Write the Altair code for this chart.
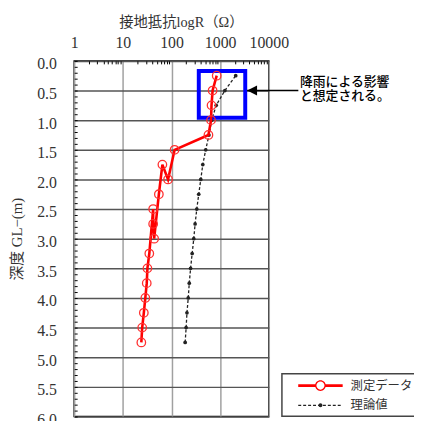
import altair as alt
import pandas as pd

# ---------------- data ----------------
depth_m = [0.25, 0.5, 0.75, 1.0, 1.25, 1.5, 1.75, 2.0, 2.25, 2.5,
           2.75, 3.0, 3.25, 3.5, 3.75, 4.0, 4.25, 4.5, 4.75]
r_measured = [850, 700, 665, 650, 575, 116, 65, 85, 55, 42,
              42, 44, 35, 32, 31, 29, 27, 25, 24]
r_theory = [2090, 1250, 830, 670, 590, 505, 440, 400, 363, 331,
            306, 287, 266, 247, 232, 221, 208, 200, 191]
series_names = ["測定データ", "理論値"]

x_ticks = [1, 10, 100, 1000, 10000]
x_minor = [m * 10 ** e for e in range(4) for m in range(2, 10)]
y_ticks = [round(i * 0.5, 1) for i in range(13)]
y_minor = [round(i * 0.1, 1) for i in range(61)]
x_title = "接地抵抗logR（Ω）"
y_title = "深度 GL−(m)"

note_lines = ["降雨による影響", "と想定される。"]
note_depth = [0.352, 0.592]
note_r = [43700, 43700]
box_r = [364, 3280]
box_depth = [0.17, 0.96]
arrow_r = [3600, 40500]
arrow_depth = [0.5]

# ---------------- tables ----------------
meas = pd.DataFrame({"R": r_measured, "depth": depth_m, "series": series_names[0]})
theo = pd.DataFrame({"R": r_theory, "depth": depth_m, "series": series_names[1]})
box_df = pd.DataFrame({"r1": [box_r[0]], "r2": [box_r[1]], "d1": [box_depth[0]], "d2": [box_depth[1]]})
arrow_df = pd.DataFrame({"r1": [arrow_r[0]], "r2": [arrow_r[1]], "d": arrow_depth})
note_df = pd.DataFrame({"text": note_lines, "R": note_r, "depth": note_depth})
legend_df = pd.DataFrame({"series": series_names, "R": [10, 10], "depth": [1, 1]})

SERIF = "Liberation Serif, Noto Sans CJK JP"
SANS = "Noto Sans CJK JP"
W, H = 197, 360

xs = alt.Scale(type="log", domain=[1, 10000], nice=False)
ys = alt.Scale(domain=[0, 6], reverse=True, nice=False, zero=False)

major_x_axis = alt.Axis(orient="top", values=x_ticks, format="d", grid=True,
                        gridColor="#a0a0a0", gridWidth=1.5, ticks=False, tickSize=0,
                        domain=False, labelFont=SERIF, labelFontSize=16,
                        labelColor="#333333", labelPadding=11, labelFlush=False,
                        labelOverlap=False,
                        title=x_title, titleFont=SERIF, titleFontSize=14.5,
                        titleFontWeight="normal", titleColor="#333333",
                        titlePadding=5, titleX=108)
major_y_axis = alt.Axis(orient="left", values=y_ticks, format=".1f", grid=True,
                        gridColor="#555555", gridWidth=1.5, ticks=False, tickSize=0,
                        domain=False, labelFont=SERIF, labelFontSize=16,
                        labelColor="#333333", labelPadding=18, labelOffset=3,
                        labelFlush=False, labelOverlap=False,
                        title=y_title, titleFont=SERIF, titleFontSize=15,
                        titleFontWeight="normal", titleColor="#333333",
                        titlePadding=12)
minor_x_axis = alt.Axis(orient="bottom", offset=-H, values=x_minor, grid=False,
                        labels=False, domain=False, ticks=True, tickSize=3,
                        tickColor="black", tickWidth=1, title=None)
minor_y_axis = alt.Axis(orient="right", offset=-W, values=y_minor, grid=False,
                        labels=False, domain=False, ticks=True, tickSize=3,
                        tickColor="black", tickWidth=1, title=None)


def xy(x_axis=None, y_axis=None):
    return dict(
        x=alt.X("R:Q", scale=xs, axis=x_axis),
        y=alt.Y("depth:Q", scale=ys, axis=y_axis),
    )


# theory (black dashed)
theo_line = alt.Chart(theo).mark_line(color="#222222", strokeWidth=1.3,
                                      strokeDash=[3, 2]).encode(**xy(major_x_axis, major_y_axis))
theo_pts = alt.Chart(theo).mark_point(filled=True, color="#222222", size=14,
                                      opacity=1).encode(**xy())

# blue box
box = alt.Chart(box_df).mark_rect(fillOpacity=0, stroke="#0000ff", strokeWidth=4).encode(
    x=alt.X("r1:Q", scale=xs, axis=None), x2="r2:Q",
    y=alt.Y("d1:Q", scale=ys, axis=None), y2="d2:Q")

# measured (red)
meas_line = alt.Chart(meas).mark_line(color="#ff0000", strokeWidth=2.6).encode(**xy())
meas_pts = alt.Chart(meas).mark_point(filled=False, color="#ff3030", strokeWidth=1.3,
                                      size=74, opacity=1).encode(**xy())

# arrow + note
arrow_line = alt.Chart(arrow_df).mark_rule(color="black", strokeWidth=1.6).encode(
    x=alt.X("r1:Q", scale=xs, axis=None), x2="r2:Q",
    y=alt.Y("d:Q", scale=ys, axis=None))
arrow_head = alt.Chart(arrow_df).mark_point(shape="M0,0L2,-1L2,1Z", filled=True,
                                            color="black", size=100, opacity=1).encode(
    x=alt.X("r1:Q", scale=xs, axis=None), y=alt.Y("d:Q", scale=ys, axis=None))
note = alt.Chart(note_df).mark_text(align="left", baseline="middle", font=SANS,
                                    fontSize=13, fontWeight=500, color="black").encode(
    text="text:N", **xy())

# minor ticks (axes only)
minor = alt.Chart(meas).mark_point().encode(**xy(minor_x_axis, minor_y_axis)).transform_filter("false")

# legend (symbols only; marks filtered out)
k = 8.0  # px per path unit for symbolSize 256


def rect(x0, x1, hh):
    return f"M{x0:.4f},{-hh:.4f}L{x1:.4f},{-hh:.4f}L{x1:.4f},{hh:.4f}L{x0:.4f},{hh:.4f}Z"


half = 22.5 / k
Ro, Ri = 5.4 / k, 4.1 / k
red_path = (rect(-half, -Ri - 0.05, 1.3 / k) + rect(Ri + 0.05, half, 1.3 / k)
            + f"M{Ro:.4f},0A{Ro:.4f},{Ro:.4f},0,1,1,{-Ro:.4f},0A{Ro:.4f},{Ro:.4f},0,1,1,{Ro:.4f},0Z"
            + f"M{Ri:.4f},0A{Ri:.4f},{Ri:.4f},0,1,0,{-Ri:.4f},0A{Ri:.4f},{Ri:.4f},0,1,0,{Ri:.4f},0Z")
dash, gap = 3 / k, 2 / k
blk = ""
pos = -half
while pos < half - 1e-6:
    blk += rect(pos, min(pos + dash, half), 0.6 / k)
    pos += dash + gap
rd = 2.0 / k
blk += f"M{rd:.4f},0A{rd:.4f},{rd:.4f},0,1,1,{-rd:.4f},0A{rd:.4f},{rd:.4f},0,1,1,{rd:.4f},0Z"

leg = alt.Legend(title=None, orient="none", legendX=210.3, legendY=316.7, padding=4,
                 symbolOffset=27, labelOffset=22.5, rowPadding=5,
                 strokeColor="#444444", labelFont=SERIF, labelFontSize=12.5,
                 labelColor="#333333", symbolSize=256, symbolStrokeWidth=0,
                 labelExpr="datum.label + '\u3000\u3000\u3000'")
legend_layer = alt.Chart(legend_df).mark_point(filled=True, opacity=1).encode(
    color=alt.Color("series:N", scale=alt.Scale(domain=series_names, range=["#ff0000", "#222222"]),
                    legend=leg),
    shape=alt.Shape("series:N", scale=alt.Scale(domain=series_names, range=[red_path, blk]),
                    legend=leg),
).transform_filter("false")

chart = alt.layer(
    theo_line, theo_pts, box, meas_line, meas_pts, arrow_line, arrow_head, note, minor, legend_layer
).resolve_axis(x="independent", y="independent").properties(
    width=W, height=H,
    autosize=alt.AutoSizeParams(type="none"),
    padding={"left": 67, "top": 51, "right": 147, "bottom": 2},
).configure_view(stroke="black", strokeWidth=1.5).configure_legend(strokeWidth=1.5)

chart.save("out.html", embed_options={"renderer": "svg", "actions": False})
